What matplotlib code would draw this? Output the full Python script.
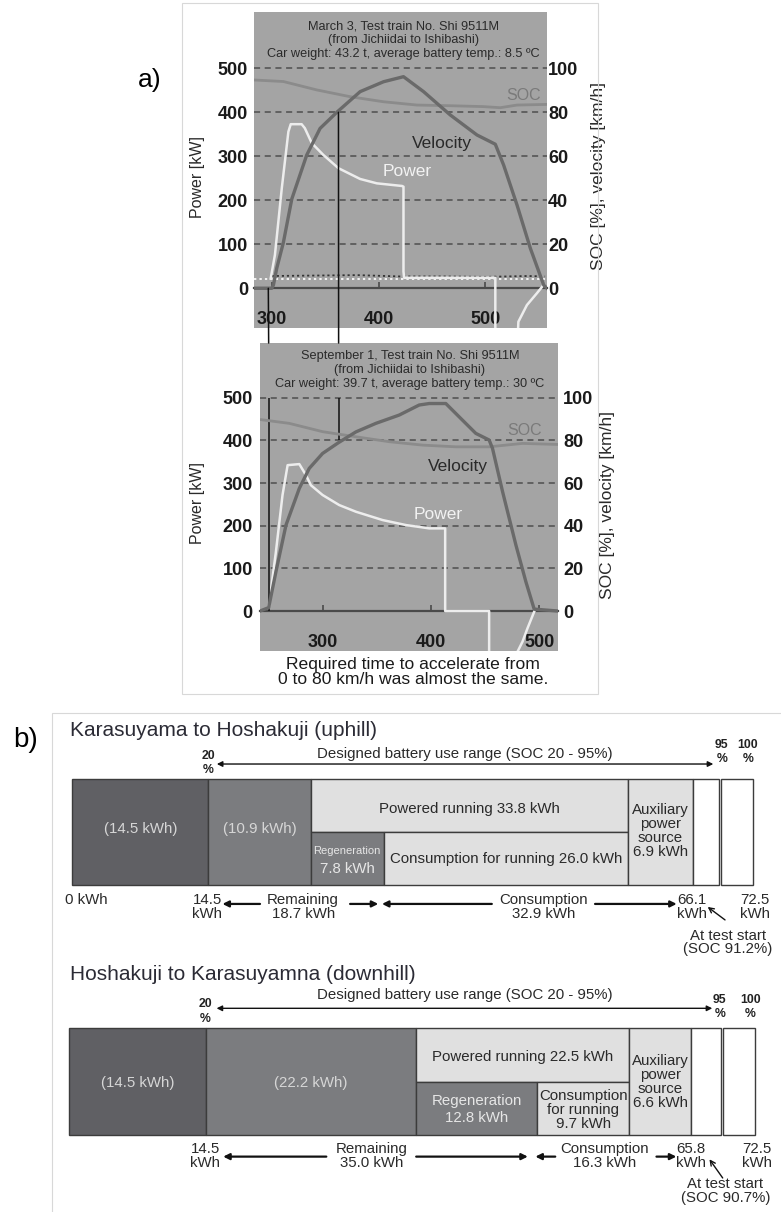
import matplotlib
matplotlib.use('Agg')
import matplotlib.pyplot as plt
from matplotlib.patches import Rectangle, ConnectionPatch
import numpy as np

plt.rcParams['font.family'] = ['Liberation Sans', 'DejaVu Sans']

#*************************************************************************#
# a) March 3 run  (time [s], velocity [km/h], SOC [%], power [kW])
t_vel_mar = [283.4, 300.0, 301.6, 304.7, 310.9, 318.8, 332.8, 345.3, 361.6, 382.8, 404.7,
             423.4, 442.2, 467.2, 492.2, 509.4, 517.2, 529.7, 542.2, 554.7, 557.8]
vel_mar = [0, 0, 1.5, 9.1, 20.8, 40.6, 60.6, 72.7, 80.3, 89.4, 93.9,
           96.2, 89.4, 78.8, 69.7, 65.5, 56.0, 37.9, 18.2, 1.5, 0]
t_soc_mar = [283.4, 310.9, 342.0, 373.4, 404.7, 436.0, 467.0, 498.0, 514.0, 529.7, 557.8]
soc_mar = [94.7, 94.0, 90.2, 87.1, 84.8, 83.3, 83.0, 82.6, 82.1, 83.3, 83.6]
t_pow_mar = [299.0, 303.0, 309.4, 315.6, 317.8, 328.0, 331.0, 337.5, 348.4, 362.5, 382.8,
             398.4, 422.0, 423.4, 423.4, 424.0, 509.4, 509.4, np.nan, 529.7, 531.0, 539.0,
             548.4, 554.7]
pow_mar = [22, 76, 227, 356, 373, 373, 364, 330, 303, 273, 248.5,
           238.6, 232.6, 231, 38, 24, 24, -150, np.nan, -150, -76, -38,
           -11, 8]
t_aux_mar = [300, 340, 380, 420, 460, 500, 540, 556]
aux_mar = [28, 29, 30, 27, 27, 26, 28, 27]
t_idle_mar = [283.4, 557.8]
idle_mar = [22, 22]
t_start_mar = 296.8
t80_mar = 362.5

# a) September 1 run
t_vel_sep = [242.2, 250.2, 256.9, 266.2, 278.5, 287.7, 300.0, 314.8, 330.8, 349.2, 370.8,
             389.2, 398.5, 413.8, 429.2, 441.5, 453.8, 456.9, 466.2, 478.5, 487.7, 495.4, 517.4]
vel_sep = [0, 1.6, 18.4, 40.3, 57.5, 66.9, 73.9, 79.0, 84.0, 88.0, 91.9,
           96.6, 97.3, 97.3, 89.5, 83.3, 80.2, 76.3, 56.0, 31.0, 13.8, 0.9, 0]
t_soc_sep = [242.2, 269.2, 300.0, 330.8, 361.5, 392.3, 423.0, 453.8, 484.6, 517.4]
soc_sep = [89.8, 88.0, 84.1, 81.7, 79.4, 77.8, 77.0, 77.0, 78.6, 78.1]
t_pow_sep = [250.2, 256.9, 263.0, 267.7, 278.5, 284.6, 289.2, 300.0, 315.4, 330.8, 355.4,
             376.9, 398.5, 413.2, 413.2, 453.8, 453.8, np.nan, 478.5, 484.6, 489.2, 495.4]
pow_sep = [7.8, 139, 272, 342, 344.5, 318.8, 295, 272, 248.4, 232.8, 213.3,
           201.6, 193.8, 193.8, 0, 0, -150, np.nan, -103, -72, -40.6, -1.6]
t_start_sep = 250.2
t80_sep = 314.8

power_ticks = [0, 100, 200, 300, 400, 500]
right_ticks = [0, 20, 40, 60, 80, 100]
time_ticks = [300, 400, 500]

# b) energy balance [kWh]
total_kwh = 72.5
low_kwh = 14.5
up = dict(extra=10.9, powered=33.8, regen=7.8, consump=26.0, aux=6.9,
          start=66.1, remaining=18.7, consumption=32.9, soc=91.2)
dn = dict(extra=22.2, powered=22.5, regen=12.8, consump=9.7, aux=6.6,
          start=65.8, remaining=35.0, consumption=16.3, soc=90.7)

#*************************************************************************#
W, H = 781, 1212
fig = plt.figure(figsize=(W / 100, H / 100), dpi=100)


def px_axes(l, t, r, b):
    return fig.add_axes([l / W, 1 - b / H, (r - l) / W, (b - t) / H])


BG = '#a4a4a4'
C_VEL = '#6a6a6a'
C_SOC = '#8b8b8b'
C_POW = '#ededed'
TXT = '#2a2a2a'


def speed_chart(ax, xlim, ylim, title, tv, v, ts, s, tp, p, txt_pos, lab_pos, pads):
    ax.set_facecolor(BG)
    ax.set_xlim(*xlim)
    ax.set_ylim(*ylim)
    for sp in ['top', 'left', 'right']:
        ax.spines[sp].set_visible(False)
    ax.spines['bottom'].set_position(('data', 0))
    ax.spines['bottom'].set_color('#4a4a4a')
    ax.spines['bottom'].set_linewidth(1.6)
    ax.set_axisbelow('line')
    ax.set_yticks(power_ticks)
    ax.grid(axis='y', color='#4f4f4f', ls=(0, (4, 3)), lw=1.1)
    ax.set_xticks(time_ticks)
    ax.tick_params(axis='x', direction='in', length=4, width=1.2, color='#4a4a4a',
                   pad=16.5, labelsize=13)
    ax.tick_params(axis='y', length=0, pad=pads[0], labelsize=13)
    for lab in ax.get_xticklabels() + ax.get_yticklabels():
        lab.set_fontweight('bold')
        lab.set_color('#1a1a1a')
    ax.set_ylabel('Power [kW]', fontsize=11.5, color=TXT)
    ax.yaxis.set_label_coords(lab_pos[0], lab_pos[1])

    axr = ax.twinx()
    axr.set_ylim(ylim[0] / 5, ylim[1] / 5)
    for sp in axr.spines.values():
        sp.set_visible(False)
    axr.set_yticks(right_ticks)
    axr.tick_params(axis='y', length=0, pad=pads[1], labelsize=13)
    for lab in axr.get_yticklabels():
        lab.set_fontweight('bold')
        lab.set_color('#1a1a1a')
    axr.set_ylabel('SOC [%], velocity [km/h]', fontsize=12.5, color=TXT)
    axr.yaxis.set_label_coords(lab_pos[2], lab_pos[3])

    axr.plot(ts, s, color=C_SOC, lw=2.0, solid_capstyle='butt')
    axr.plot(tv, v, color=C_VEL, lw=2.4)
    ax.plot(tp, p, color=C_POW, lw=1.8, zorder=4)

    ax.text(txt_pos[0][0], txt_pos[0][1], title, ha='center', va='center',
            fontsize=9.2, color=TXT, linespacing=1.22)
    ax.text(txt_pos[1][0], txt_pos[1][1], 'SOC', ha='center', va='center',
            fontsize=11.5, color='#7a7a7a')
    ax.text(txt_pos[2][0], txt_pos[2][1], 'Velocity', ha='center', va='center',
            fontsize=12.5, color=TXT, zorder=6)
    ax.text(txt_pos[3][0], txt_pos[3][1], 'Power', ha='center', va='center',
            fontsize=12.5, color='#f2f2f2', zorder=6)
    return axr


# top chart (March 3)
ax1 = px_axes(254, 12, 547, 328)
ax1r = speed_chart(ax1, (283.4, 557.8), (-90.2, 628.0),
                   'March 3, Test train No. Shi 9511M\n(from Jichiidai to Ishibashi)\n'
                   'Car weight: 43.2 t, average battery temp.: 8.5 \u00baC',
                   t_vel_mar, vel_mar, t_soc_mar, soc_mar, t_pow_mar, pow_mar,
                   [(423.1, 564), (535.7, 439), (459.4, 330), (426.6, 265)],
                   (-0.167, 0.479, 1.15, 0.48), (4.3, 0.8))
ax1.plot(t_idle_mar, idle_mar, color='#f5f5f5', lw=1.4, ls=(0, (1.2, 1.6)), zorder=3)
ax1.plot(t_aux_mar, aux_mar, color='#333333', lw=1.3, ls=(0, (1.2, 1.6)), zorder=3)

# bottom chart (September 1)
ax2 = px_axes(260, 343, 558, 651)
ax2r = speed_chart(ax2, (242.2, 517.4), (-93.7, 628.4),
                   'September 1, Test train No. Shi 9511M\n(from Jichiidai to Ishibashi)\n'
                   'Car weight: 39.7 t, average battery temp.: 30 \u00baC',
                   t_vel_sep, vel_sep, t_soc_sep, soc_sep, t_pow_sep, pow_sep,
                   [(380.6, 564), (486.8, 424), (424.9, 338), (406.5, 227)],
                   (-0.185, 0.48, 1.14, 0.475), (5.3, 3.8))

# marker lines: start of acceleration and 80 km/h, linked between both runs
ax2.vlines([t_start_sep], 0, 500, color='#111111', lw=1.1, zorder=7)
ax2.vlines([t80_sep], 80 * 5, 500, color='#111111', lw=1.1, zorder=7)
for ta, ya, tb in [(t_start_mar, 0, t_start_sep), (t80_mar, 80 * 5, t80_sep)]:
    con = ConnectionPatch(xyA=(ta, ya), coordsA=ax1.transData,
                          xyB=(tb, ax2.get_ylim()[1]), coordsB=ax2.transData,
                          color='#111111', lw=1.1)
    fig.add_artist(con)

fig.text(413 / W, 1 - 671.5 / H,
         'Required time to accelerate from\n0 to 80 km/h was almost the same.',
         ha='center', va='center', fontsize=12.6, color='#1a1a1a', linespacing=1.0)
fig.text(150 / W, 1 - 80 / H, 'a)', ha='center', va='center', fontsize=19)
fig.text(25.5 / W, 1 - 740 / H, 'b)', ha='center', va='center', fontsize=20)

# panel frames
fig.add_artist(Rectangle((182.3 / W, 1 - 694 / H), (598 - 182.3) / W, (694 - 3) / H,
                         transform=fig.transFigure, fill=False, ec='#d8d8d8', lw=0.8))
fig.add_artist(Rectangle((51.7 / W, -0.01), 1.0, (1212 - 713.3) / H + 0.01,
                         transform=fig.transFigure, fill=False, ec='#d8d8d8', lw=0.8))

#*************************************************************************#
# b) energy bars
DARK = '#606064'
MID = '#7b7c7f'
LIGHT = '#e0e0e0'
EDGE = '#3c3c3c'


def energy_bar(ax, d, title, lay):
    base = low_kwh
    k1 = base + d['extra']
    k2 = k1 + d['powered']
    k3 = k1 + d['regen']
    k95 = 0.95 * total_kwh
    kw = dict(edgecolor=EDGE, linewidth=1.0)
    ax.barh(0.5, base, left=0, height=1, color=DARK, **kw)
    ax.barh(0.5, d['extra'], left=base, height=1, color=MID, **kw)
    ax.barh(0.75, d['powered'], left=k1, height=0.5, color=LIGHT, **kw)
    ax.barh(0.25, d['regen'], left=k1, height=0.5, color=MID, **kw)
    ax.barh(0.25, d['consump'], left=k3, height=0.5, color=LIGHT, **kw)
    ax.barh(0.5, d['aux'], left=k2, height=1, color=LIGHT, **kw)
    ax.barh(0.5, k95 - d['start'], left=d['start'], height=1, color='white', **kw)
    ax.barh(0.5, total_kwh - k95 - 0.25, left=k95 + 0.25, height=1, color='white', **kw)
    ax.axis('off')

    fs = 10.8
    ax.text(lay['title'][0], lay['title'][1], title, ha='left', va='center',
            fontsize=15, color='#2b2b35')
    # designed range
    ax.annotate('', xy=(lay['rng'][1], lay['rng'][2]), xytext=(lay['rng'][0], lay['rng'][2]),
                arrowprops=dict(arrowstyle='<|-|>', color='#111111', lw=1.0,
                                mutation_scale=8, shrinkA=0, shrinkB=0))
    ax.text(41.8, lay['rng_txt'], 'Designed battery use range (SOC 20 - 95%)',
            ha='center', va='center', fontsize=fs, color=TXT)
    for x, lab in [(lay['p20'][0], '20\n%'), (lay['p95'], '95\n%'), (lay['p100'], '100\n%')]:
        y = lay['p20'][1] if lab.startswith('20') else lay['p95y']
        ax.text(x, y, lab, ha='center', va='center', fontsize=8.8, fontweight='bold',
                color='#222222', linespacing=1.3)
    # inside the bar
    ax.text(base / 2, lay['in_y'], f'({low_kwh} kWh)', ha='center', va='center',
            fontsize=fs, color='#d6d6d6')
    ax.text(base + d['extra'] / 2, lay['in_y'], f"({d['extra']} kWh)", ha='center',
            va='center', fontsize=fs, color='#d6d6d6')
    ax.text((k1 + k2) / 2, lay['pow_y'], f"Powered running {d['powered']} kWh",
            ha='center', va='center', fontsize=fs, color=TXT)
    for txt, y, f in lay['regen']:
        ax.text((k1 + k3) / 2, y, txt, ha='center', va='center', fontsize=f, color='#e6e6e6')
    ax.text((k3 + k2) / 2, lay['cons_y'], lay['cons'], ha='center', va='center',
            fontsize=fs, color=TXT, linespacing=1.0)
    ax.text((k2 + d['start']) / 2, lay['aux_y'], f"Auxiliary\npower\nsource\n{d['aux']} kWh",
            ha='center', va='center', fontsize=fs, color=TXT, linespacing=1.0)
    # under the bar
    yb = lay['below']
    if lay['zero']:
        ax.text(-0.78, yb + 0.066, '0 kWh', ha='left', va='center', fontsize=fs, color=TXT)
    ax.text(base - 0.1, yb, f'{low_kwh}\nkWh', ha='center', va='center', fontsize=fs,
            color=TXT, linespacing=0.95)
    ax.text(lay['rem_x'], yb, f"Remaining\n{d['remaining']} kWh", ha='center', va='center',
            fontsize=fs, color=TXT, linespacing=0.95)
    ax.text(lay['con_x'], yb, f"Consumption\n{d['consumption']} kWh", ha='center',
            va='center', fontsize=fs, color=TXT, linespacing=0.95)
    ax.text(d['start'] - 0.1, yb, f"{d['start']}\nkWh", ha='center', va='center',
            fontsize=fs, color=TXT, linespacing=0.95)
    ax.text(total_kwh + 0.2, yb, f'{total_kwh}\nkWh', ha='center', va='center',
            fontsize=fs, color=TXT, linespacing=0.95)
    for x0, x1 in lay['arrows']:
        ax.annotate('', xy=(x1, lay['arr_y']), xytext=(x0, lay['arr_y']),
                    arrowprops=dict(arrowstyle='-|>', color='#111111', lw=1.6,
                                    mutation_scale=9, shrinkA=0, shrinkB=0))
    ax.annotate('', xy=lay['diag'][1], xytext=lay['diag'][0],
                arrowprops=dict(arrowstyle='->', color='#111111', lw=1.0,
                                mutation_scale=9, shrinkA=0, shrinkB=0))
    ax.text(lay['diag'][0][0] + 0.3, lay['at_y'], f"At test start\n(SOC {d['soc']}%)",
            ha='center', va='center', fontsize=fs, color=TXT, linespacing=0.95)


axb1 = px_axes(52, 715, 781, 965)
axb1.set_xlim(-2.163, 75.514)
axb1.set_ylim(-0.748, 1.598)
energy_bar(axb1, up, 'Karasuyama to Hoshakuji (uphill)',
           dict(title=(-0.245, 1.457), rng=(15.4, 68.3, 1.138), rng_txt=1.232,
                p20=(14.5, 1.147), p95=69.2, p100=72.0, p95y=1.25,
                in_y=0.53, pow_y=0.718,
                regen=[('Regeneration', 0.319, 8.0), (f"{up['regen']} kWh", 0.156, 10.8)],
                cons=f"Consumption for running {up['consump']} kWh", cons_y=0.25, aux_y=0.51,
                below=-0.203, zero=True, rem_x=24.6, con_x=50.2, arr_y=-0.175,
                arrows=[(20.0, 16.0), (29.6, 32.6), (44.7, 33.0), (55.7, 64.4)],
                diag=((69.55, -0.325), (67.7, -0.203)), at_y=-0.537))

axb2 = px_axes(52, 962, 781, 1212)
axb2.set_xlim(-1.797, 75.264)
axb2.set_ylim(-0.722, 1.621)
energy_bar(axb2, dn, 'Hoshakuji to Karasuyamna (downhill)',
           dict(title=(0.1, 1.5), rng=(15.6, 68.0, 1.187), rng_txt=1.312,
                p20=(14.4, 1.159), p95=68.8, p100=72.0, p95y=1.2,
                in_y=0.485, pow_y=0.734,
                regen=[('Regeneration', 0.32, 10.8), (f"{dn['regen']} kWh", 0.155, 10.8)],
                cons=f"Consumption\nfor running\n{dn['consump']} kWh", cons_y=0.237,
                aux_y=0.497, below=-0.197, zero=False, rem_x=32.0, con_x=56.66, arr_y=-0.203,
                arrows=[(27.2, 16.3), (36.7, 48.5), (51.4, 49.3), (62.1, 64.2)],
                diag=((69.1, -0.403), (67.7, -0.228)), at_y=-0.525))

fig.savefig('out.png', dpi=100)
print("end")
